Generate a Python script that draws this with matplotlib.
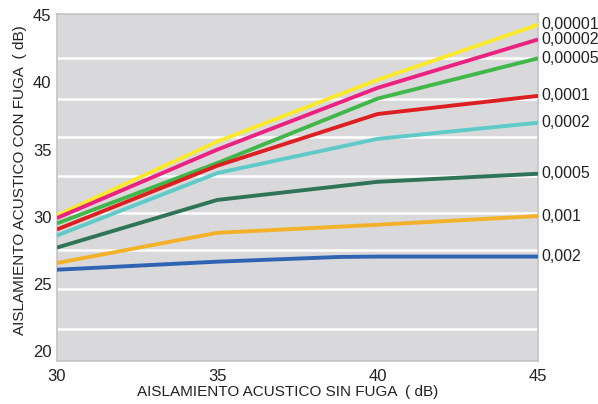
import matplotlib.pyplot as plt
import numpy as np

plt.rcParams['font.family'] = ['Liberation Sans', 'DejaVu Sans']

# data
x_sin_fuga = [30, 35, 40, 45]
labels = ['0,00001', '0,00002', '0,00005', '0,0001', '0,0002', '0,0005', '0,001', '0,002']
colors = ['#fbe92c', '#ec2280', '#41b749', '#dd1f22', '#5fcac8', '#2f7456', '#f3b12a', '#3163b3']

y_00001 = [30.1, 35.6, 40.2, 44.3]
y_00002 = [29.9, 35.0, 39.6, 43.2]
y_00005 = [29.5, 34.0, 38.8, 41.8]
y_0001 = [29.05, 33.8, 37.65, 39.0]
y_0002 = [28.6, 33.25, 35.8, 37.0]
y_0005 = [27.7, 31.25, 32.6, 33.2]
y_001 = [26.55, 28.8, 29.4, 30.05]
x_002 = [30, 35, 38.8, 40, 45]
y_002 = [26.05, 26.65, 27.0, 27.03, 27.03]

# grid lines of the original do not sit on the labelled values
grid_y = [41.85, 38.8, 35.95, 33.05, 30.3, 27.55, 24.6, 21.65]

series = [(x_sin_fuga, y_00001), (x_sin_fuga, y_00002), (x_sin_fuga, y_00005),
          (x_sin_fuga, y_0001), (x_sin_fuga, y_0002), (x_sin_fuga, y_0005),
          (x_sin_fuga, y_001), (x_002, y_002)]

fig = plt.figure(figsize=(5.98, 4.04), dpi=100)
ax = fig.add_axes([57 / 598, 43 / 404, 481 / 598, 347 / 404])
ax.set_facecolor('#d9d9db')

for (xs, ys), c, lab in zip(series, colors, labels):
    ax.plot(xs, ys, color=c, lw=2.8, solid_capstyle='butt', zorder=3)
    ax.text(45.12, ys[-1], lab, fontsize=11.5, va='center', ha='left', color='#222222')

ax.set_xlim(30, 45)
ax.set_ylim(19.25, 45.1)
ax.set_xticks([30, 35, 40, 45])
ax.set_yticks([20, 25, 30, 35, 40, 45])
ax.set_yticks(grid_y, minor=True)
ax.set_xticks([35, 40], minor=True)
ax.grid(False)
ax.grid(which='minor', color='white', lw=1.8, zorder=1)
ax.tick_params(which='both', length=0, labelsize=12, colors='#222222')
ax.tick_params(axis='x', pad=6)
ax.tick_params(axis='y', pad=4)
for s in ax.spines.values():
    s.set_color('#c4c4c6')
    s.set_linewidth(1.2)

ax.set_xlabel('AISLAMIENTO ACUSTICO SIN FUGA  ( dB)', fontsize=11, color='#222222')
ax.xaxis.set_label_coords(0.48, -0.068)
ax.set_ylabel('AISLAMIENTO ACUSTICO CON FUGA  ( dB)', fontsize=11, color='#222222')
ax.yaxis.set_label_coords(-0.062, 0.52)

fig.savefig('out.png', dpi=100)
